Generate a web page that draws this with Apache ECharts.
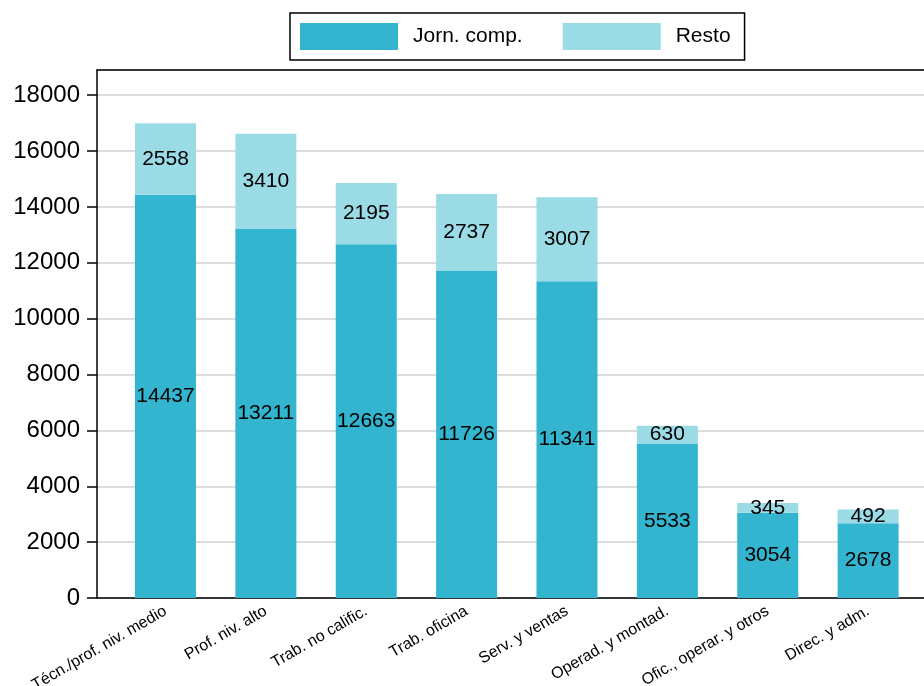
<!DOCTYPE html>
<html>
<head>
<meta charset="utf-8">
<script src="https://cdn.jsdelivr.net/npm/echarts@6/dist/echarts.min.js"></script>
<style>html,body{margin:0;padding:0;background:#fff}#c{width:924px;height:686px}</style>
</head>
<body>
<div id="c"></div>
<script>
const categories = ['Técn./prof. niv. medio','Prof. niv. alto','Trab. no calific.','Trab. oficina','Serv. y ventas','Operad. y montad.','Ofic., operar. y otros','Direc. y adm.'];
const jornComp = [14437,13211,12663,11726,11341,5533,3054,2678];
const resto = [2558,3410,2195,2737,3007,630,345,492];
const seriesNames = ['Jorn. comp.','Resto'];
const yMax = 18900;
const yInterval = 2000;

const font = "'Liberation Sans', Arial, sans-serif";
const chart = echarts.init(document.getElementById('c'));
const labelStyle = {show:true, position:'inside', color:'#000', fontSize:21, fontFamily:font};
chart.setOption({
  animation:false,
  textStyle:{fontFamily:font},
  legend:{
    left:290, top:13,
    padding:[10,14,10,10],
    borderColor:'#000', borderWidth:1.5, borderRadius:0,
    itemWidth:98, itemHeight:27, itemGap:40,
    icon:'rect',
    textStyle:{fontSize:21, color:'#000', fontFamily:font, padding:[0,0,0,10]},
    data:seriesNames
  },
  grid:[
    {left:115.3, top:70, width:803, bottom:88, containLabel:false, outerBoundsMode:'none'},
    {left:97, top:70, width:840, bottom:88, containLabel:false, outerBoundsMode:'none'}
  ],
  xAxis:[
    {type:'category', gridIndex:0, data:categories,
     axisLine:{show:false}, axisTick:{show:false},
     axisLabel:{interval:0, rotate:30, fontSize:16, color:'#000', margin:12, fontFamily:font},
     splitLine:{show:false}},
    {type:'value', gridIndex:1, min:0, max:1, position:'bottom',
     axisLine:{show:true, onZero:false, lineStyle:{color:'#000', width:1.5}},
     axisTick:{show:false}, axisLabel:{show:false}, splitLine:{show:false}},
    {type:'value', gridIndex:1, min:0, max:1, position:'top',
     axisLine:{show:true, onZero:false, lineStyle:{color:'#000', width:1.5}},
     axisTick:{show:false}, axisLabel:{show:false}, splitLine:{show:false}}
  ],
  yAxis:[
    {type:'value', gridIndex:0, min:0, max:yMax, show:false, splitLine:{show:false}},
    {type:'value', gridIndex:1, min:0, max:yMax, interval:yInterval,
     axisLine:{show:true, lineStyle:{color:'#000', width:1.5}},
     axisTick:{show:true, inside:false, length:10, lineStyle:{color:'#000', width:1.5}},
     axisLabel:{fontSize:24, color:'#000', margin:17, showMaxLabel:false, fontFamily:font,
                formatter:function(v){return String(v);}},
     splitLine:{show:true, lineStyle:{color:'#dcdcdc', width:2}}}
  ],
  series:[
    {name:seriesNames[0], type:'bar', stack:'t', xAxisIndex:0, yAxisIndex:0, data:jornComp,
     barWidth:61, itemStyle:{color:'#33b5cf'}, label:labelStyle},
    {name:seriesNames[1], type:'bar', stack:'t', xAxisIndex:0, yAxisIndex:0, data:resto,
     barWidth:61, itemStyle:{color:'#9bdbe6'}, label:labelStyle}
  ]
});
</script>
</body>
</html>
